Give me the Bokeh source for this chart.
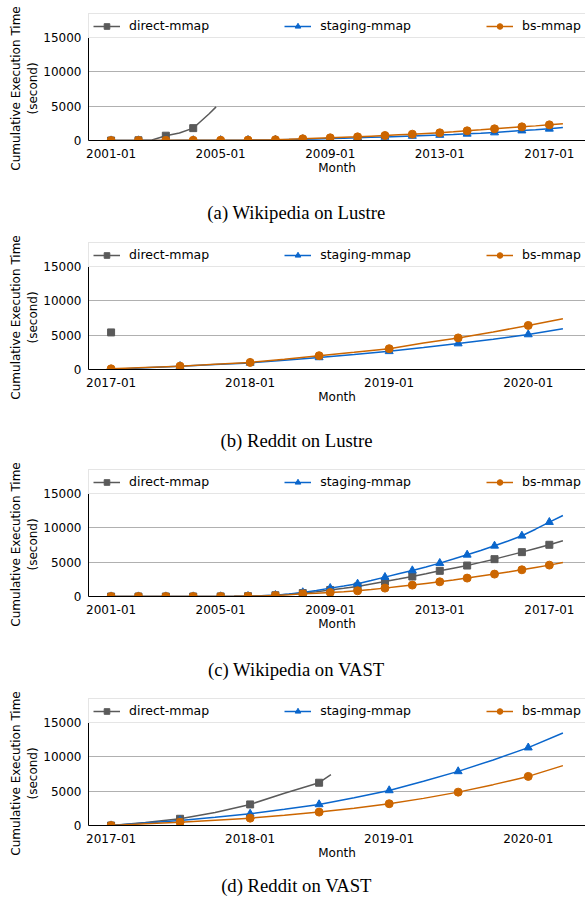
import pandas as pd
from bokeh.plotting import figure
from bokeh.models import (Range1d, FixedTicker, DatetimeTickFormatter, Legend,
                          LegendItem, Label)
from bokeh.layouts import column, row
from bokeh.embed import file_html
from bokeh.resources import INLINE

# ---------------- data ----------------
SERIES_NAMES = ["direct-mmap", "staging-mmap", "bs-mmap"]

# Wikipedia: half-yearly samples 2001-01 .. 2017-07
WIKI_DATES = list(pd.date_range("2001-01-01", "2017-07-01", freq="6MS"))
WIKI_TICKS = ["2001-01-01", "2005-01-01", "2009-01-01", "2013-01-01", "2017-01-01"]

wiki_lustre_direct_dates = ["2001-01-01", "2001-07-01", "2002-01-01", "2002-07-01",
                            "2003-01-01", "2003-07-01", "2004-01-01", "2004-04-01",
                            "2004-08-01", "2004-11-01"]
wiki_lustre_direct = [0, 0, 30, 80, 700, 1100, 1800, 2700, 3900, 4900]
wiki_lustre_staging = [0, 0, 5, 10, 15, 20, 25, 30, 35, 45, 55, 70, 90, 130, 170, 220,
                       280, 340, 400, 460, 520, 590, 660, 730, 800, 880, 970, 1060,
                       1160, 1300, 1440, 1560, 1700, 1880]
wiki_lustre_bs = [0, 0, 10, 15, 20, 25, 30, 35, 40, 50, 60, 80, 110, 170, 250, 320,
                  390, 460, 530, 630, 730, 820, 920, 1020, 1120, 1260, 1410, 1550,
                  1700, 1840, 1990, 2130, 2280, 2450]

wiki_vast_direct = [0, 0, 0, 0, 0, 0, 0, 0, 10, 20, 50, 100, 180, 320, 500, 700,
                    950, 1200, 1460, 1820, 2180, 2540, 2910, 3320, 3740, 4120, 4510,
                    4970, 5440, 5950, 6460, 7000, 7530, 8110]
wiki_vast_staging = [0, 0, 0, 0, 0, 0, 0, 0, 10, 20, 50, 100, 200, 380, 600, 880,
                     1220, 1520, 1850, 2320, 2820, 3300, 3790, 4300, 4860, 5450, 6070,
                     6700, 7380, 8080, 8840, 9800, 10830, 11800]
wiki_vast_bs = [0, 0, 0, 0, 0, 0, 0, 0, 10, 20, 40, 80, 150, 260, 390, 480, 580,
                700, 830, 1020, 1220, 1440, 1660, 1900, 2140, 2400, 2680, 2970, 3260,
                3570, 3890, 4230, 4570, 4950]

# Reddit: quarterly samples 2017-01 .. 2020-04
REDDIT_DATES = list(pd.date_range("2017-01-01", "2020-04-01", freq="3MS"))
REDDIT_TICKS = ["2017-01-01", "2018-01-01", "2019-01-01", "2020-01-01"]

reddit_lustre_direct_dates = ["2017-01-01"]
reddit_lustre_direct = [5400]
reddit_lustre_staging = [0, 250, 480, 720, 960, 1350, 1760, 2200, 2650, 3200, 3780,
                         4400, 5100, 5950]
reddit_lustre_bs = [100, 300, 490, 760, 1030, 1500, 2010, 2500, 3030, 3850, 4600,
                    5450, 6420, 7400]

reddit_vast_direct_dates = ["2017-01-01", "2017-04-01", "2017-07-01", "2017-10-01",
                            "2018-01-01", "2018-04-01", "2018-07-01", "2018-08-01"]
reddit_vast_direct = [0, 450, 980, 1900, 3070, 4700, 6230, 7400]
reddit_vast_staging = [0, 350, 730, 1200, 1700, 2350, 3070, 4050, 5110, 6450, 7880,
                       9550, 11340, 13470]
reddit_vast_bs = [0, 250, 490, 780, 1070, 1480, 1950, 2520, 3170, 3950, 4860, 5950,
                  7150, 8720]

Y_TICKS = [0, 5000, 10000, 15000]
Y_MAX = 15000
# trailing no-break spaces lower the centred title onto the data box
PAD = "\u00a0" * 6
Y_LABEL = "Cumulative Execution Time" + PAD + "\n(second)" + PAD
X_LABEL = "Month"
CAPTIONS = ["(a) Wikipedia on Lustre", "(b) Reddit on Lustre",
            "(c) Wikipedia on VAST", "(d) Reddit on VAST"]

# ---------------- style / layout ----------------
FONT = "DejaVu Sans"
COLORS = ["#5a5a5a", "#0a66cc", "#cc6600"]
MARKERS = ["square", "triangle", "circle"]
MSIZES = [7, 8, 8]

TOTAL_W = 585
YLAB_W = 40          # column holding the y-axis title
MAIN_W = TOTAL_W - YLAB_W
LEFT_B = 46          # room for y tick labels
TOP_B = 13           # space above legend
LEG_H = 24           # pixels reserved for legend above the data box
BOX_H = 103          # data box height
BOT_B = 42           # x tick labels + "Month"
MAIN_H = TOP_B + LEG_H + BOX_H + BOT_B


def style_axis(ax):
    ax.axis_line_color = None
    ax.major_tick_line_color = None
    ax.minor_tick_line_color = None
    ax.major_tick_out = 0
    ax.major_tick_in = 0
    ax.minor_tick_out = 0
    ax.minor_tick_in = 0
    ax.major_label_text_font = FONT
    ax.major_label_text_font_size = "12px"
    ax.major_label_text_color = "black"
    ax.axis_label_text_font = FONT
    ax.axis_label_text_font_size = "12px"
    ax.axis_label_text_font_style = "normal"
    ax.axis_label_text_color = "black"


def ylabel_fig():
    # narrow figure whose only content is the two-line y-axis title
    p = figure(width=YLAB_W, height=MAIN_H, x_axis_location=None,
               x_range=Range1d(0, 1), y_range=Range1d(0, 1),
               min_border_left=39, min_border_right=0, min_border_top=0,
               min_border_bottom=0,
               outline_line_color=None, output_backend="svg",
               toolbar_location=None)
    p.grid.visible = False
    p.yaxis.ticker = FixedTicker(ticks=[0.5])
    p.yaxis.major_label_overrides = {0.5: ""}
    style_axis(p.yaxis[0])
    p.yaxis.major_label_standoff = 0
    p.yaxis.axis_label_standoff = 0
    p.yaxis.axis_label = Y_LABEL
    return p


def caption_fig(text, height, y):
    p = figure(width=TOTAL_W, height=height, x_axis_location=None,
               y_axis_location=None, min_border=0, min_border_left=0,
               min_border_right=0, min_border_top=0, min_border_bottom=0,
               outline_line_color=None, output_backend="svg",
               toolbar_location=None)
    p.grid.visible = False
    p.add_layout(Label(x=296, y=y, x_units="screen", y_units="screen", text=text,
                       text_align="center", text_baseline="middle",
                       text_font="Liberation Serif", text_font_size="18.7px",
                       text_color="black"))
    return p


def main_fig(series, tick_dates, marker_months):
    all_d = [pd.Timestamp(d) for s in series for d in s[0]]
    dmin, dmax = min(all_d), max(all_d)
    pad = (dmax - dmin) * 0.05
    x0, x1 = dmin - pad, dmax + pad
    y_top = Y_MAX * (BOX_H + LEG_H) / BOX_H
    p = figure(x_axis_type="datetime", width=MAIN_W, height=MAIN_H,
               min_border_left=LEFT_B, min_border_right=0, min_border_top=TOP_B,
               min_border_bottom=BOT_B,
               x_range=Range1d(x0, x1), y_range=Range1d(0, y_top),
               output_backend="svg", toolbar_location=None)
    p.outline_line_color = None
    p.xgrid.visible = False
    p.ygrid.grid_line_color = "#b0b0b0"
    p.ygrid.grid_line_width = 1
    p.yaxis.ticker = FixedTicker(ticks=Y_TICKS)
    p.xaxis.ticker = FixedTicker(ticks=[pd.Timestamp(t).value // 10**6 for t in tick_dates])
    fmt = "%Y-%m"
    p.xaxis.formatter = DatetimeTickFormatter(years=fmt, months=fmt, days=fmt,
                                              hours=fmt, minutes=fmt, seconds=fmt,
                                              milliseconds=fmt, microseconds=fmt,
                                              hourmin=fmt, minsec=fmt)
    style_axis(p.xaxis[0])
    style_axis(p.yaxis[0])
    # black box: left and bottom from the axis lines, top from a horizontal span
    p.xaxis.axis_line_color = "black"
    p.yaxis.axis_line_color = "black"
    p.yaxis.bounds = (0, Y_MAX)
    p.xaxis.axis_label = X_LABEL
    p.xaxis.major_label_standoff = 8
    p.xaxis.axis_label_standoff = 0
    p.yaxis.major_label_standoff = 7

    items = []
    for i, (dates, vals) in enumerate(series):
        d = [pd.Timestamp(x) for x in dates]
        lr = p.line(d, vals, line_color=COLORS[i], line_width=1.5)
        md = [x for x in d if x.month in marker_months]
        mv = [v for x, v in zip(d, vals) if x.month in marker_months]
        sr = p.scatter(md, mv, marker=MARKERS[i], size=MSIZES[i],
                       fill_color=COLORS[i], line_color=COLORS[i])
        items.append(LegendItem(label=SERIES_NAMES[i], renderers=[lr, sr]))

    p.hspan(y=[Y_MAX], line_color="black", line_width=1)

    leg = Legend(items=items, orientation="horizontal", location="top_left",
                 label_text_font=FONT, label_text_font_size="12.5px",
                 label_text_color="black", glyph_width=27, glyph_height=14,
                 label_height=12, label_standoff=9, spacing=75, padding=4,
                 margin=0, border_line_color="#cccccc", border_line_width=1,
                 background_fill_color="white", background_fill_alpha=1.0)
    p.add_layout(leg)
    return p


panels = [
    ([(wiki_lustre_direct_dates, wiki_lustre_direct), (WIKI_DATES, wiki_lustre_staging),
      (WIKI_DATES, wiki_lustre_bs)], WIKI_TICKS, [1]),
    ([(reddit_lustre_direct_dates, reddit_lustre_direct),
      (REDDIT_DATES, reddit_lustre_staging), (REDDIT_DATES, reddit_lustre_bs)],
     REDDIT_TICKS, [1, 7]),
    ([(WIKI_DATES, wiki_vast_direct), (WIKI_DATES, wiki_vast_staging),
      (WIKI_DATES, wiki_vast_bs)], WIKI_TICKS, [1]),
    ([(reddit_vast_direct_dates, reddit_vast_direct),
      (REDDIT_DATES, reddit_vast_staging), (REDDIT_DATES, reddit_vast_bs)],
     REDDIT_TICKS, [1, 7]),
]
cap_sizes = [(47, 17), (45, 16), (47, 16), (40, 22)]

children = []
for (series, ticks, mm), cap, (ch, cy) in zip(panels, CAPTIONS, cap_sizes):
    children.append(row(ylabel_fig(), main_fig(series, ticks, mm), spacing=0))
    children.append(caption_fig(cap, ch, cy))

layout = column(*children, spacing=0)
open("out.html", "w").write(file_html(layout, INLINE))
